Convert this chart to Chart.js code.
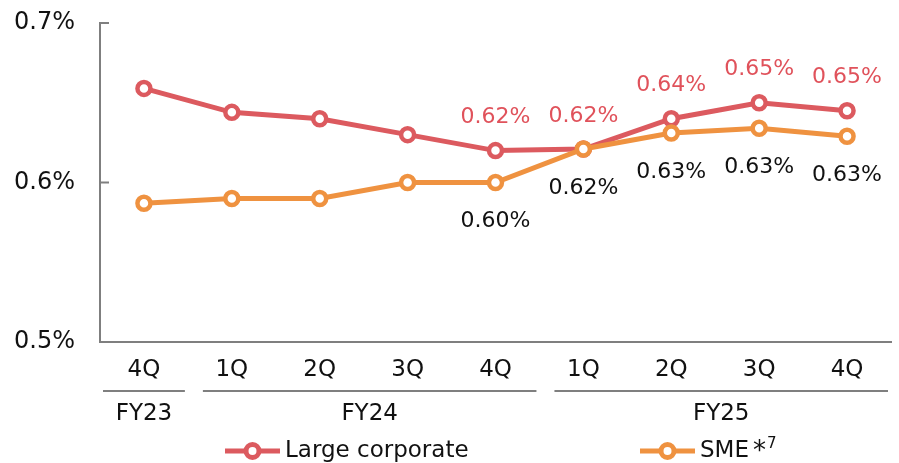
<!DOCTYPE html>
<html>
<head>
<meta charset="utf-8">
<script src="https://cdn.jsdelivr.net/npm/chart.js@4.4.1/dist/chart.umd.min.js"></script>
<style>
  html, body { margin: 0; padding: 0; background: #fff; overflow: hidden; }
  #wrap { width: 899px; height: 463px; overflow: hidden; }
  canvas { display: block; }
</style>
</head>
<body>
<div id="wrap"><canvas id="grafica" width="902" height="463"></canvas></div>
<script>
// datos
var quarters = ['4Q', '1Q', '2Q', '3Q', '4Q', '1Q', '2Q', '3Q', '4Q'];
var fiscalYears = ['FY23', 'FY24', 'FY25'];
var fySpans = [1, 4, 4];
var largeCorporate = [0.659, 0.644, 0.640, 0.630, 0.620, 0.621, 0.640, 0.650, 0.645];
var sme = [0.587, 0.590, 0.590, 0.600, 0.600, 0.621, 0.631, 0.634, 0.629];
var largeLabels = [null, null, null, null, '0.62%', '0.62%', '0.64%', '0.65%', '0.65%'];
var smeLabels = [null, null, null, null, '0.60%', '0.62%', '0.63%', '0.63%', '0.63%'];
var yTicks = [0.5, 0.6, 0.7];

var RED = '#dc5a5f';
var ORANGE = '#ef9240';
var AXIS = '#7f7f7f';
var TEXT = '#111111';
var FONT = '"DejaVu Sans", Verdana, sans-serif';

var extras = {
    id: 'extras',
    afterDatasetsDraw: function (chart) {
        var ctx = chart.ctx;
        ctx.save();
        ctx.font = '22px ' + FONT;
        ctx.textAlign = 'center';
        ctx.textBaseline = 'middle';
        chart.data.datasets.forEach(function (ds, di) {
            var meta = chart.getDatasetMeta(di);
            ds.pointText.forEach(function (txt, i) {
                if (!txt) return;
                var p = meta.data[i];
                ctx.fillStyle = ds.textColor;
                ctx.fillText(txt, p.x, p.y + ds.textOffset);
            });
        });
        ctx.restore();
    },
    afterDraw: function (chart) {
        var ctx = chart.ctx;
        var x = chart.scales.x;
        var y = chart.scales.y;
        ctx.save();

        // marcas del eje y hacia adentro
        ctx.strokeStyle = AXIS;
        ctx.lineWidth = 2;
        yTicks.forEach(function (v) {
            var py = y.getPixelForValue(v);
            ctx.beginPath();
            ctx.moveTo(x.left, py);
            ctx.lineTo(x.left + 9, py);
            ctx.stroke();
        });

        // agrupacion por ano fiscal
        var band = (x.getPixelForValue(1) - x.getPixelForValue(0));
        var idx = 0;
        ctx.font = '23px ' + FONT;
        ctx.fillStyle = TEXT;
        ctx.textAlign = 'center';
        ctx.textBaseline = 'middle';
        fiscalYears.forEach(function (fy, g) {
            var first = idx, last = idx + fySpans[g] - 1;
            var x0 = x.getPixelForValue(first) - band / 2 + (g === 0 ? 3 : 15);
            var x1 = x.getPixelForValue(last) + band / 2 - 3;
            ctx.beginPath();
            ctx.moveTo(x0, 391);
            ctx.lineTo(x1, 391);
            ctx.stroke();
            ctx.fillText(fy, (x0 + x1) / 2, 414);
            idx += fySpans[g];
        });

        // leyenda
        var items = [
            { color: RED, x: 225, text: 'Large corporate', sup: '' },
            { color: ORANGE, x: 640, text: 'SME', sup: '7' }
        ];
        var ly = 451;
        items.forEach(function (it) {
            ctx.strokeStyle = it.color;
            ctx.lineWidth = 5;
            ctx.beginPath();
            ctx.moveTo(it.x, ly);
            ctx.lineTo(it.x + 55, ly);
            ctx.stroke();
            ctx.beginPath();
            ctx.arc(it.x + 27.5, ly, 6.5, 0, Math.PI * 2);
            ctx.fillStyle = '#fff';
            ctx.fill();
            ctx.lineWidth = 5;
            ctx.stroke();
            ctx.fillStyle = TEXT;
            ctx.textAlign = 'left';
            ctx.font = '23px ' + FONT;
            ctx.fillText(it.text, it.x + 60, ly);
            if (it.sup) {
                var w = ctx.measureText(it.text).width;
                ctx.font = '26px ' + FONT;
                ctx.fillText('*', it.x + 60 + w + 4, ly + 1);
                var wa = ctx.measureText('*').width;
                ctx.font = '15px ' + FONT;
                ctx.fillText(it.sup, it.x + 60 + w + 5 + wa, ly - 7);
            }
        });
        ctx.restore();
    }
};

new Chart(document.getElementById('grafica'), {
    type: 'line',
    data: {
        labels: quarters,
        datasets: [{
            label: 'Large corporate',
            data: largeCorporate,
            borderColor: RED,
            backgroundColor: '#ffffff',
            borderWidth: 5,
            pointRadius: 6.5,
            pointBorderWidth: 4.5,
            pointBackgroundColor: '#ffffff',
            pointBorderColor: RED,
            tension: 0,
            order: 1,
            pointText: largeLabels,
            textColor: '#e0525b',
            textOffset: -33
        }, {
            label: 'SME',
            data: sme,
            borderColor: ORANGE,
            backgroundColor: '#ffffff',
            borderWidth: 5,
            pointRadius: 6.5,
            pointBorderWidth: 4.5,
            pointBackgroundColor: '#ffffff',
            pointBorderColor: ORANGE,
            tension: 0,
            order: 0,
            pointText: smeLabels,
            textColor: TEXT,
            textOffset: 39
        }]
    },
    options: {
        responsive: false,
        animation: false,
        devicePixelRatio: 1,
        layout: { padding: { top: 23, right: 0, bottom: 0, left: 0 } },
        plugins: {
            legend: { display: false },
            tooltip: { enabled: false }
        },
        scales: {
            x: {
                offset: true,
                grid: { display: false, drawTicks: false },
                border: { display: true, color: AXIS, width: 2 },
                ticks: {
                    color: TEXT,
                    padding: 14,
                    font: { family: FONT, size: 23 },
                    maxRotation: 0,
                    autoSkip: false
                },
                afterFit: function (s) {
                    s.height = 121;
                    s.paddingLeft = 0; s.paddingRight = 0;
                    s.paddingTop = 0; s.paddingBottom = 0;
                }
            },
            y: {
                min: 0.5,
                max: 0.7,
                grid: { display: false, drawTicks: false },
                border: { display: true, color: AXIS, width: 2 },
                afterBuildTicks: function (s) {
                    s.ticks = yTicks.map(function (v) { return { value: v }; });
                },
                ticks: {
                    color: TEXT,
                    padding: 25,
                    font: { family: FONT, size: 24 },
                    callback: function (v) { return v.toFixed(1) + '%'; }
                },
                afterFit: function (s) {
                    s.width = 100;
                    s.paddingTop = 0; s.paddingBottom = 0;
                    s.paddingLeft = 0; s.paddingRight = 0;
                }
            }
        }
    },
    plugins: [extras]
});
</script>
</body>
</html>
